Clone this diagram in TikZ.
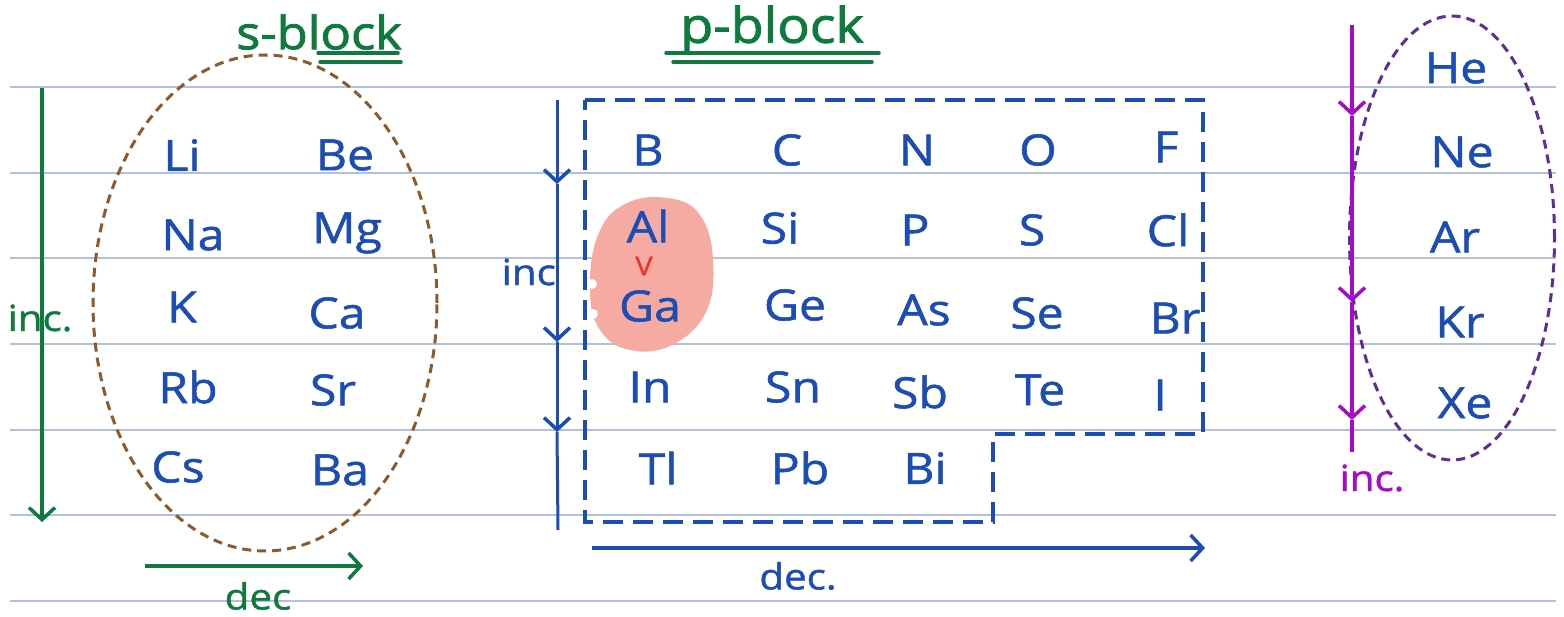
\documentclass[tikz,border=0pt]{standalone}
\usepackage{fontspec}
\setmainfont{Open Sans}
\newfontfamily\hand{Open Sans}[FakeStretch=1.12, FakeBold=1.2]
\newfontfamily\handthick{Open Sans}[FakeStretch=1.1, FakeBold=1.8]
\usetikzlibrary{arrows.meta,shapes.geometric}
\definecolor{ink}{HTML}{1B4DB5}
\definecolor{grn}{HTML}{0E7A3E}
\definecolor{brn}{HTML}{8E5A2C}
\definecolor{pur}{HTML}{A50BC9}
\definecolor{dpur}{HTML}{5E2E91}
\definecolor{rul}{HTML}{B3C0DA}
\definecolor{blob}{HTML}{F5AAA2}
\definecolor{redv}{HTML}{E8372A}
\tikzset{
  rule/.style={draw=rul, line width=1.2pt},
  el/.style={text=ink, font=\hand\fontsize{43}{43}\selectfont, inner sep=0pt},
  lbl/.style={font=\hand\fontsize{36}{36}\selectfont, inner sep=0pt},
  ttl/.style={font=\handthick\fontsize{46}{46}\selectfont, inner sep=0pt},
  barb/.style={-{Straight Barb[length=12pt,width=26pt,line width=3.5pt]}},
}
\begin{document}
\begin{tikzpicture}[x=1pt,y=-1pt]
\useasboundingbox (0,0) rectangle (1564,617);
\fill[white] (0,0) rectangle (1564,617);
% ruled lines
\foreach \yy in {87,173,258,344,430,515,601} \draw[rule] (10,\yy) -- (1556,\yy);

% ---------- s-block ----------
\node[ttl, text=grn] (stitle) at (319,32) {s-block};
\draw[grn, line width=3.5pt, line cap=round] (318,53) -- (398,53);
\draw[grn, line width=3.5pt, line cap=round] (320,62) -- (401,62);
\node[draw=brn, dashed, dash pattern=on 9pt off 6pt, line width=3pt, ellipse, minimum width=344pt, minimum height=496pt] (sell) at (265,303) {};
\coordinate (sv0) at (42,88);
\coordinate (sv1) at (42,522);
\draw[grn, line width=3.5pt, barb] (sv0) -- (sv1);
\node[lbl, text=grn] (sinc) at (40,318) {inc.};
\coordinate (sh0) at (145,566);
\coordinate (sh1) at (363,566);
\draw[grn, line width=3.5pt, barb] (sh0) -- (sh1);
\node[lbl, text=grn] (sdec) at (258,596) {dec};
\node[el] (Li) at (182,155) {Li};
\node[el] (Be) at (345,155) {Be};
\node[el] (Na) at (193,235) {Na};
\node[el] (Mg) at (347,233) {Mg};
\node[el] (K)  at (182,307) {K};
\node[el] (Ca) at (337,313) {Ca};
\node[el] (Rb) at (188,387) {Rb};
\node[el] (Sr) at (333,390) {Sr};
\node[el] (Cs) at (178,467) {Cs};
\node[el] (Ba) at (340,470) {Ba};

% ---------- p-block ----------
\node[ttl, text=grn, font=\handthick\fontsize{49}{49}\selectfont] (ptitle) at (772,30) {p-block};
\draw[grn, line width=3.5pt, line cap=round] (666,53) -- (879,53);
\draw[grn, line width=3.5pt, line cap=round] (673,62) -- (872,62);
\fill[blob] plot[smooth cycle, tension=0.7] coordinates {(598,235) (625,204) (668,198) (700,215) (713,260) (706,312) (672,345) (630,350) (600,330) (590,290)};
\fill[white] (592,284) circle (5);
\fill[white] (593,314) circle (5);
\draw[ink, line width=3.5pt, dash pattern=on 20pt off 10pt] (585,100) -- (1203,100) -- (1203,434) -- (993,434) -- (993,522) -- (585,522) -- cycle;
\coordinate (pv0) at (557,100);
\coordinate (pv1) at (557,184);
\coordinate (pv2) at (557,342);
\coordinate (pv3) at (557,432);
\coordinate (pv4) at (558,530);
\draw[ink, line width=3pt, barb] (pv0) -- (pv1);
\draw[ink, line width=3pt, barb] (pv1) -- (pv2);
\draw[ink, line width=3pt, barb] (pv2) -- (pv3);
\draw[ink, line width=3pt] (pv3) -- (pv4);
\node[lbl, text=ink, anchor=east] (pinc) at (556,272) {inc};
\coordinate (ph0) at (592,548);
\coordinate (ph1) at (1205,548);
\draw[ink, line width=3.5pt, barb] (ph0) -- (ph1);
\node[lbl, text=ink] (pdec) at (798,576) {dec.};
\node[el] (B)  at (648,150) {B};
\node[el] (C)  at (787,150) {C};
\node[el] (N)  at (917,150) {N};
\node[el] (O)  at (1038,150) {O};
\node[el] (F)  at (1166,147) {F};
\node[el] (Al) at (648,226) {Al};
\node[el] (Si) at (780,228) {Si};
\node[el] (P)  at (915,230) {P};
\node[el] (S)  at (1032,230) {S};
\node[el] (Cl) at (1168,230) {Cl};
\node[el] (Ga) at (650,306) {Ga};
\node[el] (Ge) at (795,305) {Ge};
\node[el] (As) at (924,310) {As};
\node[el] (Se) at (1037,313) {Se};
\node[el] (Br) at (1175,318) {Br};
\node[el] (In) at (650,387) {In};
\node[el] (Sn) at (793,387) {Sn};
\node[el] (Sb) at (920,392) {Sb};
\node[el] (Te) at (1040,390) {Te};
\node[el] (I)  at (1160,395) {I};
\node[el] (Tl) at (658,468) {Tl};
\node[el] (Pb) at (800,468) {Pb};
\node[el] (Bi) at (925,468) {Bi};
\node[text=redv, font=\hand\fontsize{26}{26}\selectfont, inner sep=0pt] (gt) at (644,266) {V};

% ---------- noble gases ----------
\node[draw=dpur, dashed, dash pattern=on 9pt off 6pt, line width=3pt, ellipse, minimum width=205pt, minimum height=444pt] (nell) at (1452,238) {};
\coordinate (nv0) at (1352,25);
\coordinate (nv1) at (1352,116);
\coordinate (nv2) at (1352,302);
\coordinate (nv3) at (1352,420);
\coordinate (nv4) at (1352,452);
\draw[pur, line width=3.5pt, barb] (nv0) -- (nv1);
\draw[pur, line width=3.5pt, barb] (nv1) -- (nv2);
\draw[pur, line width=3.5pt, barb] (nv2) -- (nv3);
\draw[pur, line width=3.5pt] (nv3) -- (nv4);
\node[lbl, text=pur] (ninc) at (1372,478) {inc.};
\node[el] (He) at (1456,68) {He};
\node[el] (Ne) at (1462,152) {Ne};
\node[el] (Ar) at (1455,237) {Ar};
\node[el] (Kr) at (1460,322) {Kr};
\node[el] (Xe) at (1465,403) {Xe};
\end{tikzpicture}
\end{document}
